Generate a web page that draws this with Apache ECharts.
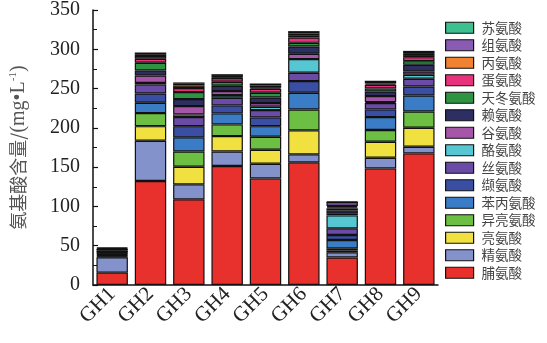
<!DOCTYPE html>
<html><head><meta charset="utf-8">
<script src="https://cdn.jsdelivr.net/npm/echarts@6/dist/echarts.min.js"></script>
<style>html,body{margin:0;padding:0;background:#fff}#c{width:547px;height:343px}</style>
</head><body><div id="c"></div>
<script>
const categories = ['GH1','GH2','GH3','GH4','GH5','GH6','GH7','GH8','GH9'];
const yTicks = [0,50,100,150,200,250,300,350];
// bottom to top stacking order
const proline       = [15.7,132.3,109,151.4,135.7,156.1,35,148.4,167.5];
const arginine      = [19.5,51.3,19.1,18.6,18.6,10.2,6.6,13.6,8.4];
const leucine       = [1,18.6,22.4,19.5,17.8,30.5,2.5,20.3,24.2];
const isoleucine    = [1,16.6,19.5,14.9,16.5,26.6,2.5,14.9,20.8];
const phenylalanine = [1,13.1,17.9,14,13.6,21.2,10.6,16.5,20.3];
const valine        = [1,11.9,14.3,10.2,11.1,14.9,6.4,9.8,11.5];
const serine        = [1,11.5,11.5,9.7,9.3,10.6,8.5,8,9.8];
const tyrosine      = [0.5,1.7,3.4,3.4,4.2,17.4,16.5,1.3,5.1];
const glutamic      = [1,9.7,10.6,5.1,4.7,6.8,2,7.6,4.2];
const lysine        = [2,6.4,8.9,6.8,7.2,9.3,4,5.9,8.4];
const aspartic      = [1,9.7,8.9,5,5.9,4.6,3,3.9,4.7];
const methionine    = [0.5,5.1,5.1,4.7,5.1,6.8,1.5,4.6,5.1];
const alanine       = [0.5,3.4,3.4,0.8,1.5,2.2,1.5,1.5,2.6];
const histidine     = [1.2,2.5,2.1,2,2.7,2.9,5,2,2.5];
const threonine     = [1,2.2,1.7,2.2,2.7,3,0.5,1.6,2.9];

const names = ['脯氨酸','精氨酸','亮氨酸','异亮氨酸','苯丙氨酸','缬氨酸','丝氨酸','酪氨酸','谷氨酸','赖氨酸','天冬氨酸','蛋氨酸','丙氨酸','组氨酸','苏氨酸'];
const values = [proline,arginine,leucine,isoleucine,phenylalanine,valine,serine,tyrosine,glutamic,lysine,aspartic,methionine,alanine,histidine,threonine];
const colors = ['#e8302c','#8492cc','#f0e040','#6cbf42','#3a7cc6','#3a4fa3','#6a4ba6','#55c6d2','#a556a8','#2d2e62','#2f9442','#e8337c','#f08232','#8a5bb3','#3ebf90'];

const chart = echarts.init(document.getElementById('c'), null, {renderer:'canvas'});
chart.setOption({
  animation:false,
  backgroundColor:'#fff',
  grid:{left:88,right:109,top:9.8,bottom:58,containLabel:false},
  legend:{
    orient:'vertical', left:445, top:21, padding:0,
    itemWidth:28, itemHeight:11, itemGap:4,
    data: names.slice().reverse(),
    icon:'rect',
    itemStyle:{borderColor:'#111',borderWidth:1.2},
    textStyle:{fontFamily:'Noto Sans CJK SC',fontSize:13.5,lineHeight:13,color:'#444',padding:[0,0,0,3]}
  },
  xAxis:{
    type:'category', data:categories,
    axisLine:{lineStyle:{color:'#111',width:1.5}},
    axisTick:{show:false},
    axisLabel:{rotate:45,fontFamily:'Liberation Serif',fontSize:21,color:'#222',margin:6,interval:0}
  },
  yAxis:{
    type:'value', min:0, max:350, interval:50,
    name:'{cjk|氨基酸含量/}{lat|(mg•L}{sup|-1}{lat|)}',
    nameLocation:'middle', nameGap:64, nameRotate:90,
    nameTextStyle:{rich:{
      cjk:{fontFamily:'Noto Sans CJK SC',fontSize:18,color:'#555'},
      lat:{fontFamily:'Liberation Serif',fontSize:20,color:'#555'},
      sup:{fontFamily:'Liberation Serif',fontSize:11,color:'#555',verticalAlign:'top',padding:[0,0,10,0]}
    }},
    axisLine:{show:true,lineStyle:{color:'#111',width:1.5}},
    axisTick:{show:true,inside:true,length:5,lineStyle:{color:'#111',width:1.2}},
    minorTick:{show:true,splitNumber:2,length:4,lineStyle:{color:'#111',width:1}},
    splitLine:{show:false},
    axisLabel:{fontFamily:'Liberation Serif',fontSize:20,color:'#222',margin:13,
      formatter:function(v){return yTicks.indexOf(v)>=0?String(v):'';}}
  },
  series: names.map((n,i)=>({
    name:n, type:'bar', stack:'total', data:values[i],
    barWidth:'82%',
    itemStyle:{color:colors[i],borderColor:'#111',borderWidth:1.2}
  }))
});
</script></body></html>
